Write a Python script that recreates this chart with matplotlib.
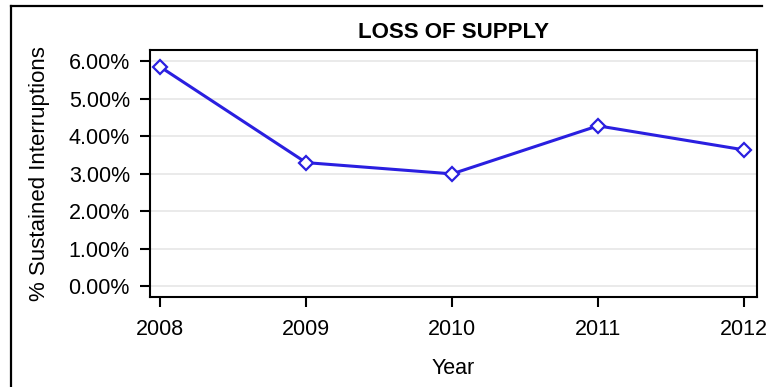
import numpy as np
import matplotlib.pyplot as plt
from matplotlib.lines import Line2D
from matplotlib.ticker import FuncFormatter

# Values
years = [2008, 2009, 2010, 2011, 2012]
pct_interruptions = [5.85, 3.30, 3.00, 4.28, 3.64]
y_ticks = [0, 1, 2, 3, 4, 5, 6]

plt.rcParams['font.family'] = ['Liberation Sans', 'DejaVu Sans']

W, H = 771, 387
fig = plt.figure(figsize=(W / 100, H / 100), dpi=100)
fig.patch.set_facecolor('white')

# outer frame (left + top edges visible in the reference)
fig.add_artist(Line2D([11 / W, 11 / W], [0, 1 - 6 / H], color='black', lw=1.6,
                      transform=fig.transFigure))
fig.add_artist(Line2D([11 / W, 762 / W], [1 - 6 / H, 1 - 6 / H], color='black', lw=1.6,
                      transform=fig.transFigure))

ax = fig.add_axes([150 / W, 1 - 297 / H, (757 - 150) / W, (297 - 50) / H])

ax.plot(years, pct_interruptions, color='#2a1fe0', lw=2.2, marker='D',
        markersize=7.5, markerfacecolor='white', markeredgecolor='#2a1fe0',
        markeredgewidth=1.6, zorder=3)

ax.set_xlim(2007.93, 2012.09)
ax.set_ylim(-0.28, 6.30)
ax.set_xticks(years)
ax.set_yticks(y_ticks)
ax.yaxis.set_major_formatter(FuncFormatter(lambda v, p: f'{v:.2f}%'))

ax.grid(axis='y', color='#e6e6e6', lw=1.2)
ax.set_axisbelow(True)

for s in ax.spines.values():
    s.set_linewidth(1.5)
    s.set_color('black')

ax.tick_params(axis='both', labelsize=15.5, width=1.5, length=7.5, color='black')
ax.tick_params(axis='y', pad=7)
ax.tick_params(axis='x', pad=8)

ax.set_title('LOSS OF SUPPLY', fontsize=16, fontweight='bold', pad=9)
ax.set_xlabel('Year', fontsize=15.5, labelpad=13)
ax.set_ylabel('% Sustained Interruptions', fontsize=16, labelpad=13)

fig.savefig('out.png', dpi=100)
